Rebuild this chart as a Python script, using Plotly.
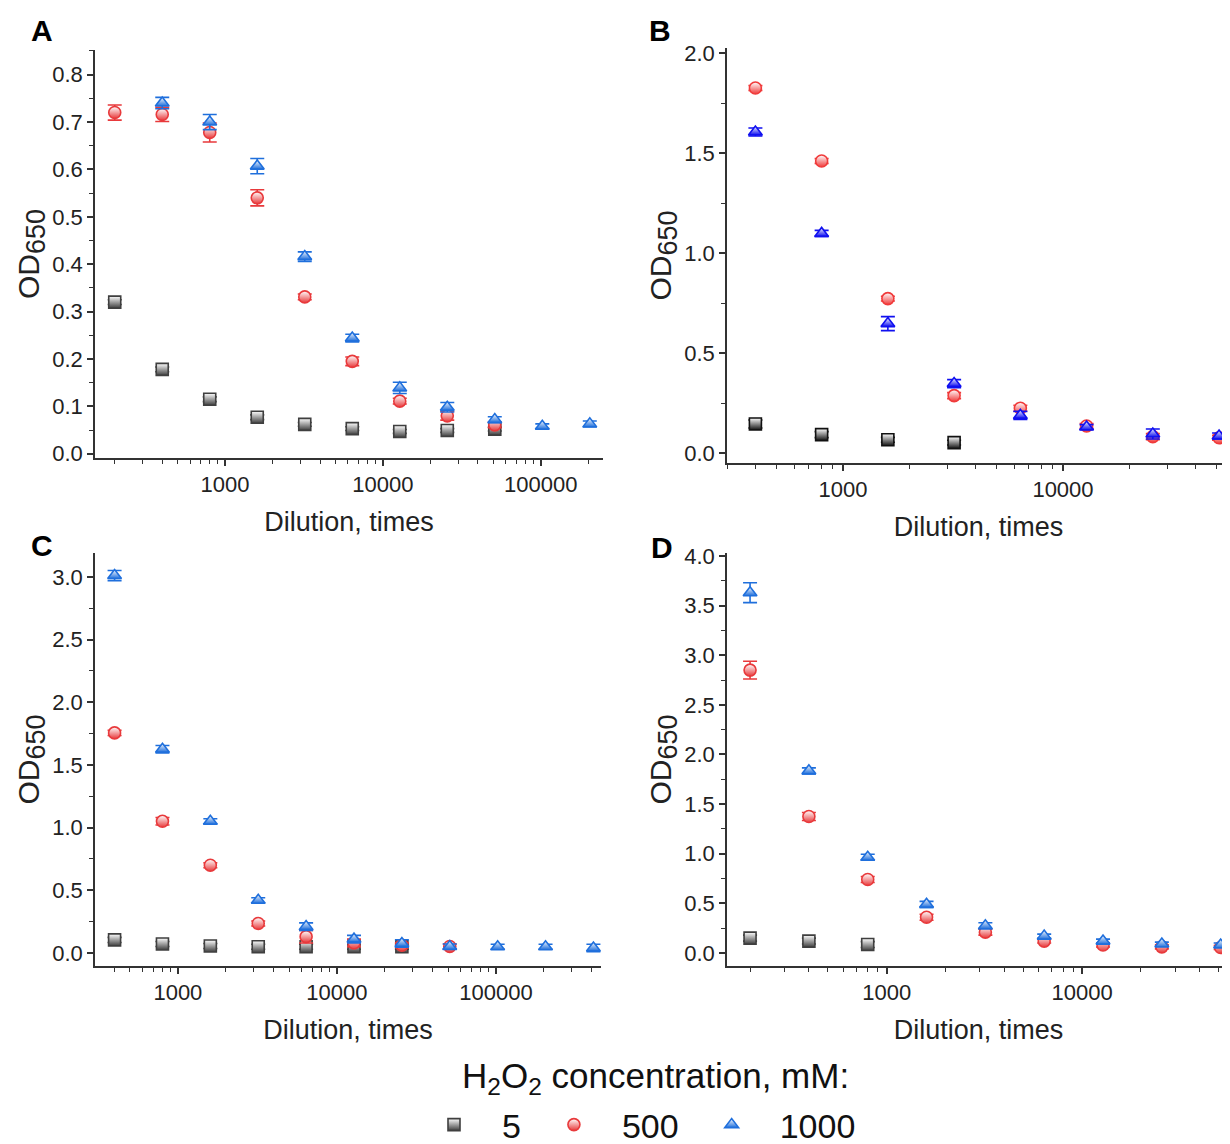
import plotly.graph_objects as go

# ---------------- data ----------------
series_names = ["5", "500", "1000"]

dil_A = [200, 400, 800, 1600, 3200, 6400, 12800, 25600, 51200, 102400, 204800]
a_black = [0.320, 0.178, 0.115, 0.077, 0.062, 0.053, 0.047, 0.049, 0.052, None, None]
a_red = [0.720, 0.716, 0.678, 0.540, 0.331, 0.195, 0.111, 0.080, 0.061, None, None]
a_blue = [None, 0.740, 0.700, 0.607, 0.416, 0.244, 0.139, 0.098, 0.072, 0.058, 0.063]
a_black_err = [0.005, 0.005, 0.005, 0.005, 0.004, 0.004, 0.004, 0.004, 0.004, None, None]
a_red_err = [0.016, 0.015, 0.020, 0.017, 0.006, 0.009, 0.006, 0.009, 0.006, None, None]
a_blue_err = [None, 0.012, 0.016, 0.016, 0.010, 0.008, 0.012, 0.010, 0.006, 0.005, 0.006]

dil_B = [400, 800, 1600, 3200, 6400, 12800, 25600, 51200]
b_black = [0.145, 0.092, 0.066, 0.052, None, None, None, None]
b_red = [1.825, 1.460, 0.772, 0.287, 0.224, 0.135, 0.082, 0.076]
b_blue = [1.605, 1.098, 0.647, 0.347, 0.188, 0.130, 0.095, 0.085]
b_black_err = [0.02, 0.015, 0.012, 0.012, None, None, None, None]
b_red_err = [0.012, 0.012, 0.012, 0.015, 0.015, 0.012, 0.015, 0.012]
b_blue_err = [0.02, 0.015, 0.035, 0.02, 0.02, 0.012, 0.025, 0.015]

dil_C = [400, 800, 1600, 3200, 6400, 12800, 25600, 51200, 102400, 204800, 409600]
c_black = [0.104, 0.072, 0.056, 0.050, 0.050, 0.050, 0.050, None, None, None, None]
c_red = [1.755, 1.050, 0.700, 0.235, 0.130, 0.080, 0.062, 0.052, None, None, None]
c_blue = [3.010, 1.625, 1.050, 0.420, 0.210, 0.110, 0.075, 0.052, 0.050, 0.050, 0.040]
c_black_err = [0.02, 0.02, 0.02, 0.02, 0.02, 0.02, 0.02, None, None, None, None]
c_red_err = [0.02, 0.03, 0.02, 0.02, 0.05, 0.03, 0.02, 0.02, None, None, None]
c_blue_err = [0.04, 0.03, 0.02, 0.02, 0.03, 0.03, 0.03, 0.02, 0.02, 0.02, 0.03]

dil_D = [200, 400, 800, 1600, 3200, 6400, 12800, 25600, 51200]
d_black = [0.150, 0.120, 0.085, None, None, None, None, None, None]
d_red = [2.850, 1.375, 0.740, 0.360, 0.210, 0.120, 0.080, 0.062, 0.055]
d_blue = [3.630, 1.835, 0.965, 0.490, 0.275, 0.170, 0.120, 0.090, 0.080]
d_black_err = [0.03, 0.03, 0.03, None, None, None, None, None, None]
d_red_err = [0.09, 0.04, 0.03, 0.03, 0.03, 0.02, 0.02, 0.02, 0.02]
d_blue_err = [0.10, 0.03, 0.03, 0.03, 0.03, 0.02, 0.02, 0.02, 0.02]

x_tickvals = [1000, 10000, 100000]
x_ticktext = ["1000", "10000", "100000"]
panel_letters = ["A", "B", "C", "D"]

# ---------------- styles ----------------
FONT = "Liberation Sans, Arial, sans-serif"
GREY = "#3f3f3f"
RED = "#e8393b"
BLUE = "#1f6fdc"
B_BLACK = "#111111"
B_BLUE = "#1010f0"
B_RED = "#f03a3a"

symbols = {"5": "square", "500": "circle", "1000": "triangle-up"}

fig = go.Figure()


def add_series(x, y, err, color, name, xa, ya, show):
    fig.add_trace(go.Scatter(
        x=x, y=y, mode="markers", name=name, legendgroup=name,
        showlegend=show, xaxis=xa, yaxis=ya,
        marker=dict(symbol=symbols[name], size=12, color="white",
                    gradient=dict(type="vertical", color=color),
                    line=dict(color=color, width=1.6)),
        error_y=dict(type="data", array=err, visible=True, color=color,
                     thickness=1.6, width=7),
    ))


add_series(dil_A, a_black, a_black_err, GREY, "5", "x", "y", True)
add_series(dil_A, a_red, a_red_err, RED, "500", "x", "y", True)
add_series(dil_A, a_blue, a_blue_err, BLUE, "1000", "x", "y", True)

add_series(dil_B, b_black, b_black_err, B_BLACK, "5", "x2", "y2", False)
add_series(dil_B, b_red, b_red_err, B_RED, "500", "x2", "y2", False)
add_series(dil_B, b_blue, b_blue_err, B_BLUE, "1000", "x2", "y2", False)

add_series(dil_C, c_black, c_black_err, GREY, "5", "x3", "y3", False)
add_series(dil_C, c_red, c_red_err, RED, "500", "x3", "y3", False)
add_series(dil_C, c_blue, c_blue_err, BLUE, "1000", "x3", "y3", False)

add_series(dil_D, d_black, d_black_err, GREY, "5", "x4", "y4", False)
add_series(dil_D, d_red, d_red_err, RED, "500", "x4", "y4", False)
add_series(dil_D, d_blue, d_blue_err, BLUE, "1000", "x4", "y4", False)

# page body has an 8px margin: figure is 8px smaller than the window
OFF = 8
W, H = 1230 - OFF, 1144 - OFF


def fx(sx):
    return (sx - OFF) / W


def fy(sy):
    return 1 - (sy - OFF) / H


minor_x = [m * 10 ** e for e in range(2, 6) for m in range(2, 10)]

axis_common = dict(showline=True, linecolor="#333333", linewidth=1.5,
                   ticks="outside", ticklen=6, tickwidth=1.5, tickcolor="#333333",
                   showgrid=False, zeroline=False, automargin=False,
                   tickfont=dict(family=FONT, size=22, color="#222222"))


def xaxis(domain, rng, anchor):
    d = dict(axis_common)
    d.update(type="log", domain=domain, range=rng, anchor=anchor,
             tickmode="array", tickvals=x_tickvals, ticktext=x_ticktext,
             minor=dict(tickmode="array", tickvals=minor_x, ticks="outside",
                        ticklen=4, tickwidth=1.3, tickcolor="#333333"),
             title=dict(text="Dilution, times", standoff=16,
                        font=dict(family=FONT, size=27, color="#222222")))
    return d


def yaxis(domain, rng, anchor, dtick, mdtick):
    d = dict(axis_common)
    d.update(domain=domain, range=rng, anchor=anchor, tick0=0, dtick=dtick,
             tickformat=".1f",
             minor=dict(tick0=0, dtick=mdtick, ticks="outside", ticklen=4,
                        tickwidth=1.3, tickcolor="#333333"),
             title=dict(text="OD<sub><span style='font-size:27px'>650</span></sub>",
                        standoff=4,
                        font=dict(family=FONT, size=30, color="#222222")))
    return d


fig.update_layout(
    width=W, height=H,
    margin=dict(l=0, r=0, t=0, b=0, autoexpand=False),
    paper_bgcolor="white", plot_bgcolor="white",
    font=dict(family=FONT, color="#222222"),
    xaxis=xaxis([fx(95), fx(603)], [2.176, 5.395], "y"),
    yaxis=yaxis([fy(458), fy(50)], [-0.009, 0.852], "x", 0.1, 0.05),
    xaxis2=xaxis([fx(727), 1.0], [2.473, 4.759], "y2"),
    yaxis2=yaxis([fy(463), fy(48)], [-0.05, 2.025], "x2", 0.5, 0.25),
    xaxis3=xaxis([fx(95), fx(601)], [2.479, 5.66], "y3"),
    yaxis3=yaxis([fy(966), fy(553)], [-0.104, 3.19], "x3", 0.5, 0.25),
    xaxis4=xaxis([fx(727), 1.0], [2.183, 4.757], "y4"),
    yaxis4=yaxis([fy(966), fy(553)], [-0.131, 4.03], "x4", 0.5, 0.25),
    legend=dict(orientation="h", xref="container", yref="container",
                x=fx(406), xanchor="left", y=fy(1125),
                yanchor="middle", font=dict(family=FONT, size=34, color="#111111"),
                bgcolor="rgba(0,0,0,0)", itemwidth=86),
)

letter_pos = [(42, 30), (660, 30), (42, 545), (662, 548)]
for t, (lx, ly) in zip(panel_letters, letter_pos):
    fig.add_annotation(text=f"<b>{t}</b>", x=fx(lx), y=fy(ly), xref="paper",
                       yref="paper", showarrow=False, xanchor="center",
                       yanchor="middle", font=dict(family=FONT, size=30, color="#000000"))

fig.add_annotation(text="H<sub>2</sub>O<sub>2</sub> concentration, mM:",
                   x=fx(655), y=fy(1078), xref="paper", yref="paper",
                   showarrow=False, xanchor="center", yanchor="middle",
                   font=dict(family=FONT, size=35, color="#111111"))

fig.write_html("out.html")
